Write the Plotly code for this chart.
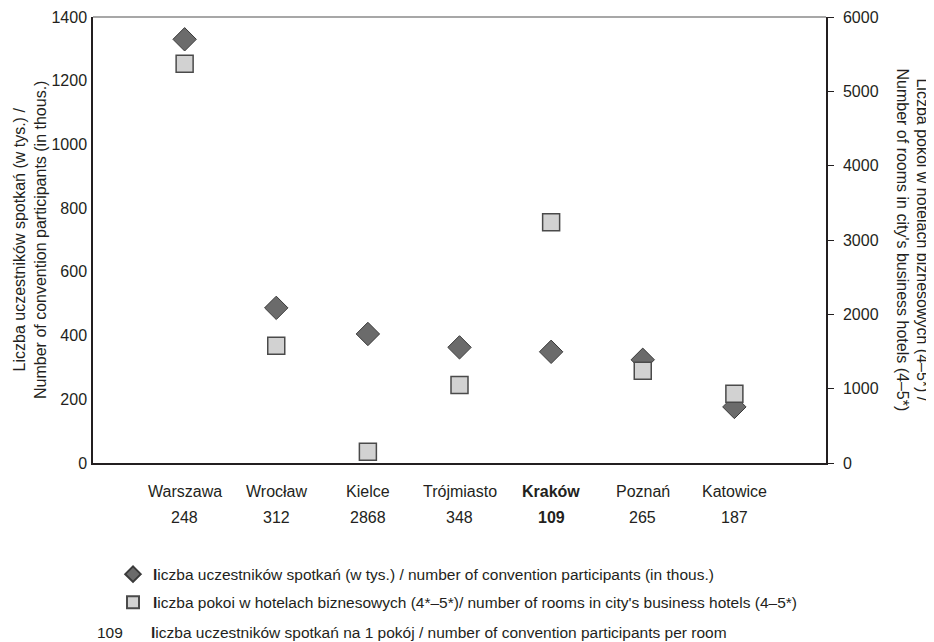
import plotly.graph_objects as go

# ── Data ───────────────────────────────────────────────────────────────────────
cities       = ['Warszawa', 'Wrocław', 'Kielce', 'Trójmiasto', 'Kraków', 'Poznań', 'Katowice']
participants = [1330, 487, 405, 363, 349, 324, 176]      # thous.
rooms        = [5370, 1578, 150, 1050, 3240, 1240, 930]
per_room     = [248, 312, 2868, 348, 109, 265, 187]
highlight    = 'Kraków'

left_ticks  = [0, 200, 400, 600, 800, 1000, 1200, 1400]
right_ticks = [0, 1000, 2000, 3000, 4000, 5000, 6000]

# ── Style ──────────────────────────────────────────────────────────────────────
FONT       = 'Liberation Sans Narrow, Arial Narrow, Liberation Sans, sans-serif'
TEXT_COLOR = '#231f20'
DIAMOND    = '#6b6b6b'
SQUARE     = '#d2d2d2'

x_pos = list(range(len(cities)))

fig = go.Figure()
fig.add_trace(go.Scatter(
    x=x_pos, y=participants, mode='markers', yaxis='y',
    name='<b>l</b>iczba uczestników spotkań (w tys.) / number of convention participants (in thous.)',
    marker=dict(symbol='diamond', size=18, color=DIAMOND,
                line=dict(color='#3a3a3a', width=1)),
    legendgroup='a',
))
fig.add_trace(go.Scatter(
    x=x_pos, y=rooms, mode='markers', yaxis='y2',
    name="<b>l</b>iczba pokoi w hotelach biznesowych (4*–5*)/ number of rooms in city's business hotels (4–5*)",
    marker=dict(symbol='square', size=17, color=SQUARE,
                line=dict(color='#4a4a4a', width=1.5)),
    legendgroup='b',
))

# category labels + ratio under each category
for i, (c, r) in enumerate(zip(cities, per_room)):
    bold = c == highlight
    fig.add_annotation(x=i, y=-0.065, xref='x', yref='paper',
                       text=f'<b>{c}</b>' if bold else c, showarrow=False,
                       font=dict(size=16), yanchor='middle')
    fig.add_annotation(x=i, y=-0.123, xref='x', yref='paper',
                       text=f'<b>{r}</b>' if bold else str(r), showarrow=False,
                       font=dict(size=16), yanchor='middle')

# third legend line (text only)
fig.add_annotation(x=0.0437, y=-0.379, xref='paper', yref='paper', showarrow=False,
                   text='109', font=dict(size=15.5), xanchor='right', yanchor='middle')
fig.add_annotation(x=0.0764, y=-0.379, xref='paper', yref='paper', showarrow=False,
                   text='<b>l</b>iczba uczestników spotkań na 1 pokój / number of convention participants per room',
                   font=dict(size=15.5), xanchor='left', yanchor='middle')

# axis titles
fig.add_annotation(x=-0.086, y=0.5, xref='paper', yref='paper', showarrow=False,
                   text='Liczba uczestników spotkań (w tys.) /<br>Number of convention participants (in thous.)',
                   textangle=-90, font=dict(size=16), xanchor='center', yanchor='middle')
fig.add_annotation(x=1.118, y=0.5, xref='paper', yref='paper', showarrow=False,
                   text="Liczba pokoi w hotelach biznesowych (4–5*) /<br>Number of rooms in city's business hotels (4–5*)",
                   textangle=90, font=dict(size=16), xanchor='center', yanchor='middle')

# grey top border
fig.add_shape(type='line', xref='paper', yref='paper', x0=0, x1=1, y0=1, y1=1,
              line=dict(color='#8a8a8a', width=1.5))

# page body adds an 8px offset, so the figure is sized to fit inside the window
fig.update_layout(
    width=926, height=634,
    paper_bgcolor='white', plot_bgcolor='white',
    font=dict(family=FONT, size=16, color=TEXT_COLOR),
    margin=dict(l=85, r=108, t=9, b=179, autoexpand=False),
    showlegend=True,
    legend=dict(x=0.0273, y=-0.212, xanchor='left', yanchor='top',
                itemsizing='constant', tracegroupgap=5,
                font=dict(size=15.5), bgcolor='rgba(0,0,0,0)'),
    xaxis=dict(range=[-1, len(cities)], showgrid=False, zeroline=False,
               showticklabels=False, showline=True, linecolor='#231f20',
               linewidth=1.5, ticks=''),
    yaxis=dict(range=[0, 1400], tickvals=left_ticks, showgrid=False,
               zeroline=False, showline=True, linecolor='#231f20',
               linewidth=1.5, ticks='', ticklabelstandoff=1),
    yaxis2=dict(range=[0, 6000], tickvals=right_ticks, overlaying='y',
                side='right', showgrid=False, zeroline=False, showline=True,
                linecolor='#231f20', linewidth=1.5, ticks='outside',
                ticklen=6, tickcolor='#231f20', ticklabelstandoff=6),
)

fig.write_html('out.html')
